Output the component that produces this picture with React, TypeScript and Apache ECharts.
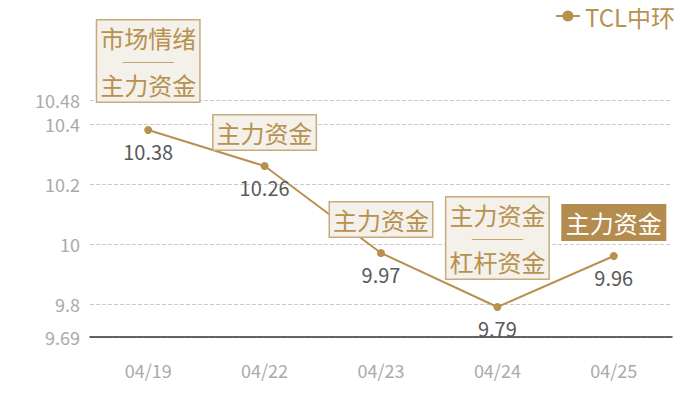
import React, { useEffect, useRef } from "react";
import * as echarts from "echarts";

const categories = ["04/19", "04/22", "04/23", "04/24", "04/25"];
const values = [10.38, 10.26, 9.97, 9.79, 9.96];
const yTicks = [9.69, 9.8, 10, 10.2, 10.4, 10.48];
const annotations: string[][] = [
  ["市场情绪", "主力资金"],
  ["主力资金"],
  ["主力资金"],
  ["主力资金", "杠杆资金"],
  ["主力资金"],
];
const highlighted = [false, false, false, false, true];
const seriesName = "TCL中环";

const GOLD = "#b8914f";
const FONT = "'Noto Sans CJK SC', 'Noto Sans', sans-serif";

export default function App() {
  const ref = useRef<HTMLDivElement>(null);
  useEffect(() => {
    if (!ref.current) return;
    const chart = echarts.init(ref.current, null, { renderer: "svg" });
    const annData = values.map((v, i) => {
      const lines = annotations[i];
      const multi = lines.length > 1;
      const hl = highlighted[i];
      const txtColor = hl ? "#ffffff" : GOLD;
      return {
        value: v,
        label: {
          show: true,
          position: "top",
          distance: multi ? 28 : 16,
          formatter: lines.map((l) => `{a|${l}}`).join("\n{d|───}\n"),
          backgroundColor: hl ? "#b48c4e" : "#f4f0ea",
          borderColor: hl ? "#b48c4e" : "#c9ab7b",
          borderWidth: 1.5,
          padding: [3, 3, 3, 3],
          fontFamily: FONT,
          align: "center",
          color: txtColor,
          rich: {
            a: { fontSize: 24, lineHeight: 28, color: txtColor, fontFamily: FONT, align: "center" },
            d: { fontSize: 17, lineHeight: 19, color: txtColor, fontFamily: "'Noto Sans CJK SC'", align: "center" },
          },
        },
      };
    });
    chart.setOption({
      animation: false,
      textStyle: { fontFamily: FONT },
      legend: {
        show: true,
        data: [seriesName],
        right: 20,
        top: -1,
        itemWidth: 24,
        itemHeight: 14,
        itemGap: 8,
        textStyle: { color: GOLD, fontSize: 24, fontFamily: FONT },
      },
      grid: { left: 90, right: 28, top: 100, bottom: 63 },
      xAxis: {
        type: "category",
        data: categories,
        boundaryGap: true,
        axisLine: { show: true, lineStyle: { color: "#333333", width: 1.5 } },
        axisTick: { show: false },
        axisLabel: { color: "#aaaaaa", fontSize: 18, margin: 24, fontFamily: FONT },
      },
      yAxis: {
        type: "value",
        min: 9.69,
        max: 10.48,
        axisLine: { show: false },
        axisTick: { show: false, customValues: yTicks },
        axisLabel: { color: "#aaaaaa", fontSize: 18, margin: 10, fontFamily: FONT, customValues: yTicks },
        splitLine: { show: true, lineStyle: { color: "#cccccc", type: "dashed", width: 1 } },
      },
      series: [
        {
          name: seriesName,
          type: "line",
          data: values,
          symbol: "circle",
          symbolSize: 8,
          itemStyle: { color: GOLD },
          lineStyle: { color: GOLD, width: 2 },
          label: {
            show: true,
            position: "bottom",
            distance: 7,
            color: "#595959",
            fontSize: 20,
            fontFamily: FONT,
          },
          z: 3,
        },
        {
          name: "ann",
          type: "line",
          data: annData,
          symbol: "circle",
          symbolSize: 1,
          showSymbol: true,
          itemStyle: { color: "rgba(0,0,0,0)" },
          lineStyle: { color: "rgba(0,0,0,0)", width: 0 },
          z: 5,
          silent: true,
        },
      ],
    });
    return () => chart.dispose();
  }, []);
  return <div ref={ref} style={{ width: 700, height: 400, margin: -8 }} />;
}
